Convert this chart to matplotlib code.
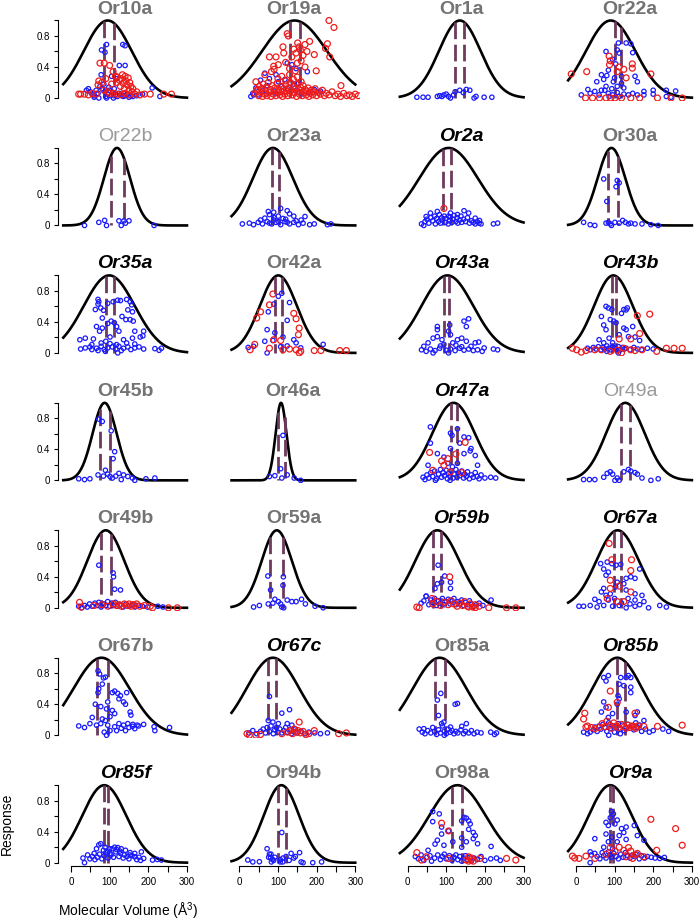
import numpy as np
import matplotlib
matplotlib.use('Agg')
import matplotlib.pyplot as plt

plt.rcParams['font.family'] = ['Liberation Sans', 'DejaVu Sans']
plt.rcParams['mathtext.fontset'] = 'custom'
plt.rcParams['mathtext.rm'] = 'Liberation Sans'

# ---------------- panel definitions ----------------
PANELS = ['Or10a', 'Or19a', 'Or1a', 'Or22a',
          'Or22b', 'Or23a', 'Or2a', 'Or30a',
          'Or35a', 'Or42a', 'Or43a', 'Or43b',
          'Or45b', 'Or46a', 'Or47a', 'Or49a',
          'Or49b', 'Or59a', 'Or59b', 'Or67a',
          'Or67b', 'Or67c', 'Or85a', 'Or85b',
          'Or85f', 'Or94b', 'Or98a', 'Or9a']
TITLE_STYLE = ['gray', 'gray', 'gray', 'gray',
               'light', 'gray', 'black', 'gray',
               'black', 'gray', 'black', 'black',
               'gray', 'gray', 'black', 'light',
               'gray', 'gray', 'black', 'black',
               'gray', 'black', 'gray', 'black',
               'black', 'gray', 'gray', 'black']
MEANS = [95, 143, 135, 90,
         119, 87, 106, 92,
         99, 101, 103, 97,
         87, 108, 119, 128,
         90, 97, 77, 108,
         79, 87, 83, 107,
         86, 109, 129, 89]
SIGMAS = [62, 84, 54, 64,
          34, 52, 76, 36,
          66, 48, 67, 50,
          31, 14, 55, 50,
          48, 39, 57, 55,
          72, 68, 69, 64,
          57, 46, 73, 56]
DASH_LEFT = [86, 130, 123, 100,
             103, 85, 92, 82,
             90, 92, 93, 93,
             74, 101, 112, 118,
             78, 80, 67, 99,
             68, 75, 71, 106,
             85, 101, 115, 87]
DASH_RIGHT = [110, 157, 147, 116,
              137, 104, 112, 109,
              110, 110, 108, 104,
              102, 117, 128, 139,
              104, 114, 86, 116,
              95, 95, 97, 128,
              96, 121, 141, 97]

# ---------------- points (x = volume, y = response) ----------------
OR10A_BLUE = [(78,0.30),(79,0.62),(88,0.59),(92,0.69),(134,0.69),(140,0.675),(125,0.42),(140,0.42),
              (105,0.28),(118,0.25),(40,0.10),(45,0.12),(50,0.08),(55,0.05),(60,0.03),(65,0.10),(70,0.06),
              (75,0.15),(80,0.12),(85,0.18),(88,0.08),(90,0.02),(95,0.05),(98,0.14),(100,0.10),(103,0.03),
              (108,0.07),(112,0.12),(115,0.04),(120,0.02),(125,0.06),(130,0.04),(135,0.02),(140,0.03),
              (145,0.05),(150,0.01),(155,0.03),(160,0.02),(170,0.03),(185,0.05),(210,0.13),(230,0.02),
              (60,0.01),(72,0.0),(92,0.0),(110,0.0)]
OR10A_RED = [(75,0.45),(86,0.45),(100,0.42),(109,0.34),(20,0.05),(25,0.05),(35,0.05),(45,0.04),(55,0.06),
             (65,0.05),(70,0.17),(72,0.22),(80,0.20),(85,0.10),(90,0.25),(95,0.08),(105,0.18),(110,0.06),
             (115,0.28),(118,0.20),(120,0.27),(125,0.23),(128,0.15),(130,0.25),(133,0.30),(135,0.19),
             (138,0.12),(140,0.28),(142,0.22),(145,0.17),(148,0.26),(150,0.10),(152,0.20),(155,0.15),
             (158,0.08),(160,0.12),(165,0.05),(170,0.08),(178,0.04),(190,0.05),(205,0.05),(240,0.05),
             (260,0.05),(120,0.05),(130,0.04),(140,0.06),(100,0.06),(150,0.04)]

OR19A_BLUE = [(124,0.45),(136,0.43),(95,0.30),(78,0.25),(55,0.23),(43,0.13),(37,0.04),(101,0.21),
              (147,0.38),(176,0.34),(153,0.19),(72,0.16),(118,0.24),(66,0.32),(89,0.09),(60,0.09),
              (147,0.10),(194,0.11),(30,0.02),(35,0.06),(50,0.04),(70,0.05),(95,0.06),(110,0.15),
              (125,0.12),(140,0.18),(160,0.05),(180,0.07),(210,0.09)]
OR19A_RED = [(232,1.0),(245,0.91),(124,0.83),(127,0.80),(151,0.71),(170,0.69),(228,0.70),(223,0.64),
             (234,0.53),(194,0.56),(182,0.73),(141,0.63),(158,0.62),(147,0.58),(113,0.66),(115,0.58),
             (78,0.53),(95,0.53),(136,0.53),(89,0.41),(83,0.34),(199,0.35),(101,0.43),(130,0.38),
             (66,0.30),(43,0.21),(263,0.16),(49,0.11),(160,0.48),(150,0.45),(170,0.40),(145,0.35),
             (120,0.46),(90,0.37),(165,0.55),(175,0.60),(155,0.66),
             (40,0.06),(45,0.10),(50,0.03),(52,0.15),(55,0.07),(58,0.12),(60,0.02),(62,0.18),(65,0.05),
             (68,0.09),(70,0.14),(72,0.03),(75,0.20),(78,0.07),(80,0.11),(82,0.02),(85,0.16),(88,0.05),
             (90,0.09),(92,0.13),(95,0.03),(98,0.19),(100,0.07),(102,0.11),(105,0.04),(108,0.15),
             (110,0.08),(112,0.02),(115,0.12),(118,0.05),(120,0.17),(122,0.09),(125,0.03),(128,0.13),
             (130,0.06),(132,0.20),(135,0.10),(138,0.04),(140,0.15),(142,0.07),(145,0.12),(148,0.02),
             (150,0.18),(152,0.08),(155,0.05),(158,0.14),(160,0.10),(163,0.03),(165,0.16),(168,0.07),
             (170,0.11),(173,0.04),(175,0.09),(178,0.13),(180,0.02),(183,0.06),(186,0.10),(190,0.04),
             (193,0.08),(196,0.12),(200,0.03),(205,0.07),(210,0.05),(215,0.10),(220,0.03),(225,0.06),
             (232,0.04),(240,0.08),(248,0.03),(255,0.05),(262,0.02),(270,0.06),(278,0.03),(285,0.04),
             (292,0.02),(300,0.05),(308,0.03),(120,0.22),(100,0.25),(140,0.24),(160,0.21),(110,0.28),
             (150,0.27),(130,0.30)]

OR1A_BLUE = [(24,0.01),(40,0.01),(53,0.01),(77,0.02),(83,0.03),(94,0.04),(106,0.02),(111,0.0),(119,0.04),
             (123,0.08),(135,0.10),(144,0.07),(152,0.11),(161,0.10),(172,0.0),(177,0.02),(198,0.01),
             (218,0.01),(89,0.02),(100,0.05)]
OR1A_RED = []

OR22A_BLUE = [(130,0.71),(142,0.70),(147,0.585),(110,0.71),(78,0.60),(107,0.62),(112,0.58),(95,0.50),
              (103,0.44),(84,0.36),(66,0.30),(118,0.28),(153,0.28),(159,0.21),(72,0.24),(54,0.21),
              (97,0.21),(107,0.15),(31,0.11),(49,0.085),(176,0.085),(234,0.10),(258,0.09),(200,0.10),
              (124,0.13),(78,0.15),(14,0.04),(37,0.06),(60,0.04),(66,0.10),(84,0.06),(95,0.04),(107,0.07),
              (124,0.05),(136,0.04),(147,0.06),(159,0.04),(176,0.04),(200,0.05),(234,0.02),(246,0.01),
              (86,0.02),(112,0.02),(75,0.10),(93,0.12),(118,0.19),(100,0.26),(80,0.29)]
OR22A_RED = [(-12,0.31),(28,0.34),(86,0.54),(89,0.48),(87,0.43),(124,0.37),(146,0.44),(146,0.385),
             (107,0.34),(194,0.31),(112,0.40),(130,0.26),(25,0.0),(43,0.0),(61,0.0),(78,0.0),(90,0.0),
             (101,0.0),(118,0.0),(142,0.0),(165,0.0),(211,0.0),(246,0.0),(275,0.0)]

OR22B_BLUE = [(35,0.0),(72,0.04),(87,0.065),(92,0.0),(124,0.06),(130,0.0),(137,0.06),(150,0.06),
              (141,0.03),(215,0.0)]
OR22B_RED = []

OR23A_BLUE = [(107,0.22),(75,0.18),(89,0.17),(124,0.19),(130,0.15),(78,0.14),(101,0.12),(141,0.12),
              (170,0.115),(66,0.094),(89,0.07),(113,0.09),(8,0.02),(26,0.03),(37,0.01),(49,0.04),
              (60,0.02),(72,0.05),(84,0.02),(95,0.04),(107,0.01),(118,0.05),(130,0.02),(141,0.04),
              (153,0.01),(165,0.03),(182,0.01),(194,0.02),(228,0.01),(237,0.02),(78,0.03),(101,0.05),
              (124,0.04),(147,0.06),(55,0.07),(160,0.07),(90,0.10),(120,0.08)]
OR23A_RED = []

OR2A_BLUE = [(111,0.16),(146,0.19),(158,0.16),(59,0.16),(77,0.18),(48,0.115),(106,0.12),(129,0.14),
             (175,0.094),(186,0.064),(222,0.02),(233,0.03),(36,0.02),(42,0.0),
             (45,0.05),(50,0.08),(55,0.03),(60,0.10),(65,0.06),(70,0.12),(72,0.02),(75,0.09),(80,0.05),
             (82,0.14),(85,0.03),(88,0.10),(90,0.07),(95,0.12),(98,0.04),(100,0.09),(105,0.02),(108,0.06),
             (110,0.11),(115,0.04),(118,0.08),(120,0.13),(125,0.05),(128,0.10),(130,0.03),(135,0.07),
             (138,0.12),(140,0.04),(145,0.08),(150,0.05),(155,0.10),(160,0.03),(165,0.06),(170,0.04),
             (175,0.02),(180,0.05),(185,0.03),(190,0.02)]
OR2A_RED = [(94,0.22)]

OR30A_BLUE = [(72,0.60),(80,0.31),(107,0.58),(112,0.55),(104,0.50),(20,0.04),(37,0.01),(49,0.0),
              (78,0.03),(84,0.04),(89,0.02),(101,0.04),(112,0.03),(121,0.065),(128,0.04),(136,0.02),
              (142,0.03),(153,0.02),(171,0.02),(194,0.01),(213,0.0),(92,0.0)]
OR30A_RED = []

OR35A_BLUE = [(70,0.69),(72,0.66),(70,0.63),(77,0.58),(63,0.56),(84,0.55),(95,0.64),(109,0.66),
              (121,0.68),(128,0.675),(144,0.69),(153,0.66),(157,0.62),(147,0.555),(159,0.53),(132,0.47),
              (142,0.43),(153,0.43),(161,0.41),(81,0.45),(95,0.38),(104,0.41),(112,0.39),(118,0.34),
              (81,0.32),(66,0.34),(74,0.28),(124,0.28),(165,0.28),(188,0.28),(186,0.22),(179,0.205),
              (159,0.19),(136,0.17),(101,0.205),(90,0.15),(58,0.18),(23,0.17),(37,0.19),
              (25,0.05),(37,0.064),(49,0.077),(54,0.043),(66,0.06),(78,0.085),(86,0.043),(95,0.064),
              (107,0.077),(116,0.05),(124,0.085),(136,0.06),(147,0.077),(155,0.043),(165,0.064),
              (176,0.077),(188,0.05),(217,0.055),(228,0.034),(234,0.06),(101,0.12),(118,0.107),
              (144,0.128),(165,0.115),(78,0.128),(54,0.107),(121,0.0),(89,0.02),(130,0.03),(70,0.03)]
OR35A_RED = []

OR42A_BLUE = [(110,0.77),(101,0.73),(89,0.63),(130,0.65),(124,0.42),(72,0.30),(75,0.53),(92,0.26),
              (113,0.205),(141,0.17),(87,0.16),(66,0.15),(37,0.085),(23,0.07),(217,0.11),(72,0.0),
              (124,0.09),(107,0.08),(147,0.13),(159,0.065)]
OR42A_RED = [(55,0.53),(87,0.76),(45,0.45),(78,0.62),(141,0.51),(147,0.44),(155,0.32),(153,0.235),
             (40,0.11),(28,0.04),(89,0.17),(107,0.16),(78,0.06),(113,0.04),(147,0.04),(159,0.02),
             (194,0.03),(211,0.03),(260,0.03),(277,0.03),(130,0.05),(155,0.0)]

OR43A_BLUE = [(158,0.44),(146,0.41),(152,0.34),(109,0.36),(106,0.28),(77,0.34),(77,0.30),(111,0.235),
              (77,0.21),(66,0.19),(89,0.17),(129,0.17),(140,0.19),(152,0.15),(175,0.13),(184,0.14),
              (42,0.085),(53,0.13),(94,0.11),(117,0.13),(164,0.085),(198,0.064),(222,0.05),(233,0.04),
              (36,0.04),(48,0.02),(59,0.05),(71,0.03),(83,0.06),(100,0.035),(111,0.05),(123,0.03),
              (135,0.06),(146,0.035),(158,0.05),(170,0.03),(181,0.04),(193,0.02),(66,0.0),(106,0.0),
              (85,0.09),(125,0.10),(140,0.08)]
OR43A_RED = []

OR43B_BLUE = [(78,0.60),(84,0.58),(93,0.56),(124,0.56),(130,0.555),(133,0.58),(118,0.51),(89,0.43),
              (98,0.41),(104,0.39),(66,0.47),(72,0.36),(78,0.30),(124,0.32),(130,0.30),(147,0.34),
              (112,0.235),(136,0.21),(86,0.19),(60,0.17),(95,0.13),(72,0.13),(153,0.205),(165,0.16),
              (30,0.06),(37,0.04),(45,0.07),(52,0.05),(58,0.08),(65,0.04),(70,0.07),(75,0.05),(80,0.09),
              (85,0.06),(90,0.04),(95,0.08),(100,0.06),(105,0.05),(110,0.08),(115,0.04),(120,0.07),
              (125,0.05),(130,0.06),(140,0.04),(150,0.07),(160,0.05),(170,0.04),(185,0.06),(200,0.05),
              (80,0.02),(110,0.0)]
OR43B_RED = [(159,0.48),(191,0.50),(165,0.25),(142,0.18),(112,0.18),(-9,0.06),(2,0.04),(14,0.01),
             (26,0.03),(49,0.04),(66,0.04),(89,0.02),(107,0.035),(124,0.06),(142,0.04),(153,0.03),
             (171,0.04),(209,0.02),(234,0.06),(254,0.06),(275,0.06),(118,0.0)]

OR45B_BLUE = [(72,0.79),(81,0.76),(104,0.64),(113,0.37),(109,0.28),(89,0.13),(95,0.08),(84,0.055),
              (101,0.05),(107,0.03),(70,0.07),(124,0.09),(136,0.07),(147,0.05),(159,0.03),(165,0.0),
              (20,0.02),(35,0.01),(49,0.02),(194,0.02),(217,0.03),(116,0.055),(130,0.01)]
OR45B_RED = []

OR46A_BLUE = [(113,0.58),(107,0.15),(92,0.06),(78,0.05),(110,0.03),(142,0.03),(159,0.0),(124,0.07)]
OR46A_RED = []

OR47A_BLUE = [(59,0.69),(111,0.61),(115,0.58),(129,0.665),(146,0.56),(158,0.55),(135,0.48),(111,0.41),
              (59,0.48),(164,0.41),(162,0.38),(77,0.345),(94,0.30),(146,0.345),(175,0.32),(181,0.195),
              (53,0.195),(104,0.22),(116,0.175),(129,0.22),
              (40,0.04),(45,0.01),(50,0.07),(55,0.03),(60,0.10),(65,0.05),(70,0.12),(75,0.02),(80,0.08),
              (85,0.14),(88,0.04),(92,0.10),(95,0.06),(100,0.13),(103,0.02),(106,0.09),(110,0.05),
              (113,0.12),(118,0.03),(120,0.08),(125,0.14),(128,0.04),(132,0.10),(135,0.06),(140,0.12),
              (145,0.03),(148,0.08),(152,0.05),(155,0.11),(160,0.02),(165,0.07),(170,0.04),(175,0.10),
              (180,0.05),(185,0.02),(190,0.07),(200,0.03),(215,0.04),(228,0.03),(110,0.0),(72,0.0)]
OR47A_RED = [(57,0.36),(125,0.34),(149,0.49),(88,0.25),(94,0.195),(104,0.28),(140,0.10),(65,0.13),
             (111,0.11)]

OR49A_BLUE = [(20,0.01),(35,0.01),(49,0.01),(72,0.04),(81,0.09),(89,0.11),(95,0.08),(107,0.03),(112,0.0),
              (124,0.11),(136,0.14),(142,0.12),(153,0.10),(159,0.08),(171,0.03),(194,0.0),(213,0.02),
              (101,0.0)]
OR49A_RED = []

OR49B_BLUE = [(72,0.55),(109,0.45),(110,0.40),(113,0.24),(128,0.23),
              (20,0.02),(28,0.0),(35,0.03),(42,0.01),(48,0.05),(55,0.02),(62,0.06),(68,0.03),(72,0.07),
              (78,0.01),(85,0.05),(90,0.03),(95,0.08),(100,0.02),(105,0.06),(110,0.03),(115,0.07),
              (120,0.02),(128,0.04),(135,0.01),(142,0.05),(150,0.02),(158,0.04),(165,0.01),(175,0.03),
              (185,0.02),(198,0.01),(225,0.02),(238,0.01)]
OR49B_RED = [(22,0.07),(26,0.01),(60,0.03),(80,0.04),(95,0.02),(110,0.05),(118,0.03),(125,0.04),(130,0.02),
             (138,0.05),(145,0.03),(150,0.05),(155,0.02),(160,0.04),(165,0.03),(170,0.05),(178,0.02),
             (190,0.03),(211,0.0),(252,0.0),(275,0.0),(205,0.02)]

OR59A_BLUE = [(74,0.41),(81,0.23),(114,0.40),(113,0.29),(92,0.11),(101,0.08),(124,0.10),(136,0.08),
              (147,0.08),(161,0.11),(171,0.05),(37,0.01),(52,0.03),(75,0.05),(110,0.01),(115,0.0),
              (196,0.02),(217,0.0),(87,0.06),(107,0.05)]
OR59A_RED = []

OR59B_BLUE = [(79,0.55),(96,0.41),(111,0.33),(111,0.25),(88,0.33),(77,0.31),(71,0.25),(48,0.15),(216,0.10),
              (35,0.06),(42,0.09),(48,0.15),(55,0.04),(60,0.10),(65,0.07),(70,0.12),(75,0.03),(80,0.09),
              (85,0.06),(90,0.12),(95,0.04),(100,0.08),(105,0.11),(110,0.05),(115,0.09),(120,0.12),
              (125,0.04),(130,0.08),(135,0.05),(140,0.10),(145,0.03),(150,0.07),(155,0.04),(160,0.09),
              (165,0.05),(170,0.02),(178,0.04),(185,0.06),(195,0.03)]
OR59B_RED = [(109,0.40),(63,0.12),(24,0.01),(30,0.0),(158,0.01),(175,0.0),(210,0.0),(256,0.0),(280,0.0),
             (65,0.05),(75,0.08),(85,0.03),(95,0.07),(105,0.04),(112,0.09),(120,0.05),(128,0.02),
             (135,0.06),(142,0.03),(148,0.08),(155,0.02),(162,0.05),(168,0.01),(175,0.04),(185,0.02)]

OR67A_BLUE = [(64,0.57),(81,0.59),(93,0.57),(104,0.55),(116,0.56),(72,0.50),(84,0.46),(78,0.42),
              (130,0.38),(142,0.40),(153,0.38),(165,0.50),(107,0.33),(124,0.31),(103,0.27),(72,0.25),
              (66,0.205),(78,0.16),(89,0.18),(130,0.23),(153,0.18),(171,0.16),(49,0.11),(60,0.08),
              (84,0.10),(135,0.12),(153,0.10),(176,0.08),(8,0.02),(20,0.02),(37,0.03),(55,0.01),
              (72,0.03),(95,0.02),(112,0.03),(130,0.0),(153,0.02),(188,0.0),(217,0.03),(234,0.01),
              (100,0.12),(118,0.06),(140,0.05),(165,0.04)]
OR67A_RED = [(86,0.83),(93,0.62),(144,0.62),(142,0.48),(89,0.355),(89,0.25),(112,0.28),(142,0.205),
             (107,0.08),(124,0.08),(81,0.12)]

OR67B_BLUE = [(70,0.83),(74,0.79),(84,0.74),(89,0.75),(81,0.66),(72,0.60),(70,0.55),(107,0.55),(113,0.57),
              (121,0.54),(128,0.51),(144,0.55),(124,0.47),(136,0.43),(141,0.40),(95,0.43),(63,0.40),
              (77,0.37),(92,0.34),(107,0.32),(113,0.28),(153,0.30),(155,0.26),(101,0.24),(81,0.21),
              (89,0.19),(55,0.23),(20,0.12),(35,0.10),(49,0.15),(66,0.13),(77,0.15),(95,0.13),(113,0.11),
              (124,0.15),(136,0.13),(147,0.15),(159,0.115),(171,0.13),(188,0.14),(215,0.11),(217,0.06),
              (255,0.10),(86,0.04),(92,0.0),(118,0.06),(141,0.06),(165,0.085),(101,0.06),(130,0.09),
              (150,0.10),(160,0.14),(175,0.12)]
OR67B_RED = []

OR67C_BLUE = [(78,0.50),(110,0.285),(130,0.33),(75,0.19),(87,0.17),(101,0.15),(124,0.15),(136,0.13),
              (25,0.03),(35,0.06),(45,0.02),(55,0.05),(62,0.08),(68,0.03),(72,0.10),(78,0.05),(82,0.12),
              (88,0.02),(92,0.07),(96,0.10),(100,0.04),(105,0.08),(110,0.03),(115,0.06),(120,0.10),
              (125,0.04),(130,0.07),(135,0.02),(140,0.05),(145,0.08),(150,0.03),(160,0.05),(170,0.02),
              (180,0.04),(195,0.03),(210,0.02),(228,0.03)]
OR67C_RED = [(155,0.17),(194,0.06),(257,0.02),(277,0.03),(26,0.0),(43,0.0),(55,0.01),(125,0.04),
             (132,0.06),(138,0.02),(142,0.08),(148,0.04),(152,0.06),(158,0.03),(165,0.05),(172,0.01),
             (180,0.02),(20,0.02),(110,0.02)]

OR85A_BLUE = [(86,0.54),(77,0.455),(123,0.40),(129,0.41),(80,0.255),(94,0.17),(88,0.15),(152,0.15),
              (140,0.115),(42,0.085),(111,0.106),
              (30,0.08),(38,0.04),(45,0.02),(52,0.06),(60,0.03),(65,0.10),(70,0.05),(75,0.01),(80,0.07),
              (85,0.03),(90,0.12),(95,0.05),(100,0.02),(105,0.08),(110,0.04),(115,0.06),(120,0.02),
              (125,0.05),(130,0.03),(138,0.07),(145,0.02),(150,0.05),(158,0.03),(165,0.06),(172,0.02),
              (180,0.04),(190,0.03),(215,0.04),(225,0.01),(230,0.03),(95,0.0)]
OR85A_RED = []

OR85B_BLUE = [(72,0.745),(84,0.77),(78,0.70),(112,0.66),(116,0.745),(130,0.745),(136,0.77),(142,0.745),
              (124,0.64),(142,0.62),(142,0.55),(109,0.51),(112,0.47),(107,0.40),(72,0.43),(78,0.36),
              (66,0.30),(95,0.28),(130,0.30),(159,0.30),(84,0.23),(153,0.255),(176,0.19),
              (20,0.04),(30,0.02),(37,0.04),(45,0.07),(49,0.106),(55,0.05),(60,0.12),(65,0.08),(70,0.14),
              (75,0.10),(80,0.05),(85,0.16),(90,0.09),(95,0.12),(100,0.04),(105,0.11),(110,0.15),
              (115,0.08),(120,0.13),(125,0.06),(130,0.10),(135,0.14),(140,0.09),(145,0.12),(150,0.07),
              (155,0.16),(160,0.10),(165,0.13),(170,0.05),(180,0.08),(190,0.04),(200,0.06),(225,0.08),
              (240,0.05),(85,0.0),(115,0.02)]
OR85B_RED = [(23,0.285),(20,0.21),(89,0.57),(84,0.36),(107,0.425),(153,0.285),(176,0.115),(211,0.115),
             (275,0.13),(26,0.106),(49,0.085),(60,0.10),(68,0.15),(75,0.11),(80,0.18),(88,0.13),(92,0.09),
             (98,0.16),(104,0.12),(110,0.10),(118,0.14),(125,0.11),(130,0.09),(135,0.13),(140,0.10),
             (145,0.12),(150,0.11),(155,0.09),(160,0.12),(40,0.10),(30,0.12)]

OR85F_BLUE = [(72,0.23),(77,0.245),(66,0.18),(84,0.16),(95,0.15),(107,0.18),(113,0.20),(121,0.195),
              (130,0.18),(141,0.16),(101,0.12),(60,0.12),(43,0.10),(31,0.06),(35,0.0),(153,0.10),
              (165,0.076),(176,0.07),(188,0.055),(153,0.13),(165,0.12),(182,0.14),(211,0.034),
              (223,0.042),(234,0.034),(49,0.05),(55,0.08),(62,0.04),(68,0.07),(74,0.11),(80,0.05),
              (86,0.09),(90,0.13),(96,0.06),(104,0.10),(110,0.07),(116,0.14),(124,0.08),(128,0.12),
              (135,0.06),(138,0.10),(145,0.08),(150,0.05),(158,0.09),(170,0.04),(180,0.03),(118,0.17),
              (126,0.15),(100,0.18),(88,0.20)]
OR85F_RED = []

OR94B_BLUE = [(110,0.39),(72,0.18),(78,0.11),(82,0.11),(81,0.07),(76,0.07),(92,0.07),(106,0.04),
              (113,0.06),(121,0.08),(134,0.12),(145,0.08),(156,0.13),(141,0.06),(22,0.035),(35,0.01),
              (52,0.013),(83,0.01),(89,0.03),(160,0.01),(165,0.0),(190,0.0),(213,0.01),(106,0.01),
              (86,0.04),(112,0.01),(129,0.03)]
OR94B_RED = []

OR98A_BLUE = [(65,0.66),(82,0.63),(146,0.585),(152,0.575),(140,0.54),(158,0.54),(162,0.50),(65,0.53),
              (88,0.46),(106,0.41),(88,0.37),(158,0.43),(170,0.39),(175,0.35),(170,0.31),(140,0.32),
              (152,0.27),(77,0.29),(71,0.24),(94,0.225),(117,0.27),(181,0.245),(216,0.21),(140,0.20),
              (53,0.16),(20,0.08),(28,0.05),(35,0.10),(42,0.03),(50,0.07),(58,0.09),(62,0.02),(70,0.06),
              (78,0.10),(85,0.04),(90,0.08),(95,0.11),(100,0.05),(108,0.09),(115,0.03),(120,0.07),
              (125,0.10),(130,0.04),(135,0.08),(140,0.02),(145,0.06),(150,0.09),(155,0.04),(160,0.07),
              (165,0.02),(172,0.06),(180,0.04),(190,0.08),(200,0.03),(215,0.05),(230,0.06),(240,0.03)]
OR98A_RED = [(88,0.51),(106,0.41),(24,0.13),(36,0.034),(48,0.076),(106,0.055),(152,0.034),(158,0.02),
             (164,0.04),(170,0.02),(187,0.055),(256,0.055),(280,0.034),(158,0.076),(166,0.06)]

OR9A_BLUE = [(92,0.66),(97,0.63),(89,0.58),(78,0.52),(84,0.48),(101,0.50),(107,0.55),(118,0.44),(124,0.39),
             (130,0.46),(151,0.48),(112,0.35),(93,0.33),(78,0.37),(49,0.31),(84,0.27),(107,0.27),
             (130,0.30),(159,0.35),(176,0.29),(95,0.18),(72,0.20),(37,0.14),
             (37,0.0),(40,0.10),(49,0.12),(55,0.08),(62,0.05),(68,0.13),(72,0.09),(78,0.06),(84,0.14),
             (88,0.10),(92,0.07),(98,0.12),(104,0.08),(110,0.05),(116,0.11),(122,0.07),(128,0.13),
             (134,0.09),(140,0.06),(146,0.10),(152,0.08),(158,0.11),(164,0.05),(170,0.09),(178,0.06),
             (185,0.08),(195,0.07),(205,0.06),(217,0.055),(229,0.068)]
OR9A_RED = [(194,0.56),(258,0.44),(275,0.225),(209,0.16),(-9,0.085),(-3,0.06),(8,0.055),(26,0.085),
            (49,0.055),(78,0.11),(89,0.195),(101,0.15),(112,0.20),(124,0.16),(136,0.195),(142,0.15),
            (130,0.076),(153,0.10),(159,0.12),(147,0.055),(176,0.076)]

BLUE_POINTS = [OR10A_BLUE, OR19A_BLUE, OR1A_BLUE, OR22A_BLUE,
               OR22B_BLUE, OR23A_BLUE, OR2A_BLUE, OR30A_BLUE,
               OR35A_BLUE, OR42A_BLUE, OR43A_BLUE, OR43B_BLUE,
               OR45B_BLUE, OR46A_BLUE, OR47A_BLUE, OR49A_BLUE,
               OR49B_BLUE, OR59A_BLUE, OR59B_BLUE, OR67A_BLUE,
               OR67B_BLUE, OR67C_BLUE, OR85A_BLUE, OR85B_BLUE,
               OR85F_BLUE, OR94B_BLUE, OR98A_BLUE, OR9A_BLUE]
RED_POINTS = [OR10A_RED, OR19A_RED, OR1A_RED, OR22A_RED,
              OR22B_RED, OR23A_RED, OR2A_RED, OR30A_RED,
              OR35A_RED, OR42A_RED, OR43A_RED, OR43B_RED,
              OR45B_RED, OR46A_RED, OR47A_RED, OR49A_RED,
              OR49B_RED, OR59A_RED, OR59B_RED, OR67A_RED,
              OR67B_RED, OR67C_RED, OR85A_RED, OR85B_RED,
              OR85F_RED, OR94B_RED, OR98A_RED, OR9A_RED]

X_TICKS = [0, 50, 100, 150, 200, 250, 300]
X_TICK_LABELS = ['0', '', '100', '', '200', '', '300']
Y_TICKS = [0, 0.2, 0.4, 0.6, 0.8, 1.0]
Y_TICK_LABELS = ['0', '', '0.4', '', '0.8', '']

# ---------------- drawing ----------------
W, H = 700, 921
fig = plt.figure(figsize=(W / 100, H / 100), dpi=100)

title_styles = {
    'gray': dict(color='#737373', fontweight='bold', fontstyle='normal'),
    'light': dict(color='#9a9a9a', fontweight='normal', fontstyle='normal'),
    'black': dict(color='black', fontweight='bold', fontstyle='italic'),
}

ax_w, ax_h = 133.6, 83.7
for i, name in enumerate(PANELS):
    r, c = divmod(i, 4)
    left = 58.3 + 168.3 * c
    top = 17.4 + 127.45 * r
    ax = fig.add_axes([left / W, 1 - (top + ax_h) / H, ax_w / W, ax_h / H])
    ax.set_xlim(-32.8, 312.8)
    ax.set_ylim(-0.04, 1.04)
    ax.patch.set_alpha(0)
    for s in ['top', 'right']:
        ax.spines[s].set_visible(False)

    m, sd = MEANS[i], SIGMAS[i]
    xs = np.linspace(-20, 300, 400)
    ax.plot(xs, np.exp(-(xs - m) ** 2 / (2 * sd ** 2)), color='black', lw=1.9, zorder=2)

    for d in (DASH_LEFT[i], DASH_RIGHT[i]):
        top_y = np.exp(-(d - m) ** 2 / (2 * sd ** 2))
        ax.plot([d, d], [top_y, 0], color='#6e3a5e', lw=2.0, dashes=(6, 2), zorder=3)

    bp = BLUE_POINTS[i]
    if bp:
        ax.scatter([p[0] for p in bp], [p[1] for p in bp], s=10, facecolors='none',
                   edgecolors='#1a1aff', linewidths=0.9, zorder=4)
    rp = RED_POINTS[i]
    if rp:
        ax.scatter([p[0] for p in rp], [p[1] for p in rp], s=18, facecolors='none',
                   edgecolors='#ee1c1c', linewidths=0.9, zorder=5)

    if c == 0:
        ax.spines['left'].set_bounds(0, 1)
        ax.spines['left'].set_linewidth(0.8)
        ax.set_yticks(Y_TICKS)
        ax.set_yticklabels(Y_TICK_LABELS)
        ax.tick_params(axis='y', length=3, width=0.8, pad=3, labelsize=7)
    else:
        ax.spines['left'].set_visible(False)
        ax.set_yticks([])
    if r == 6:
        ax.spines['bottom'].set_bounds(0, 300)
        ax.spines['bottom'].set_linewidth(0.8)
        ax.set_xticks(X_TICKS)
        ax.set_xticklabels(X_TICK_LABELS)
        ax.tick_params(axis='x', length=4.3, width=0.8, pad=4, labelsize=7)
    else:
        ax.spines['bottom'].set_visible(False)
        ax.set_xticks([])

    ax.text(0.5, 1.10, name, transform=ax.transAxes, ha='center', va='center',
            fontsize=14, **title_styles[TITLE_STYLE[i]])

fig.text(7 / W, 1 - 824 / H, 'Response', rotation=90, ha='center', va='center', fontsize=10)
fig.text(128 / W, 1 - 911 / H, 'Molecular Volume (Å$^{3}$)', ha='center', va='center', fontsize=10)

fig.savefig('out.png', dpi=100)
